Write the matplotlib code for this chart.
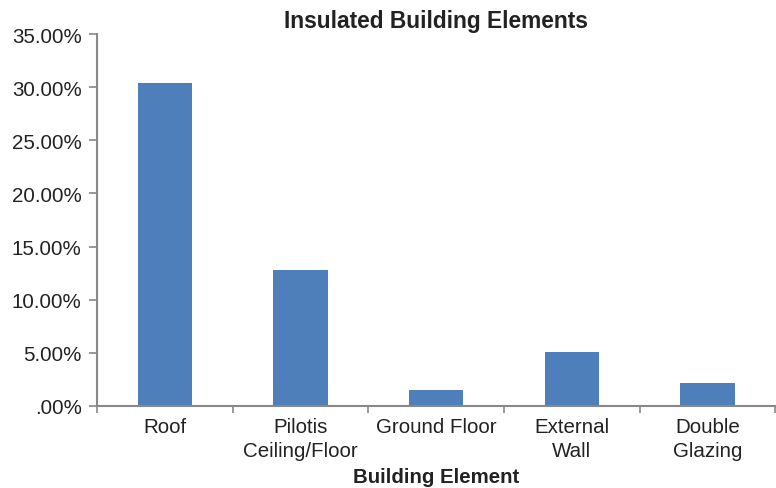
import numpy as np
import matplotlib.pyplot as plt
from matplotlib.ticker import FuncFormatter, FixedLocator

plt.rcParams['font.family'] = ['Liberation Sans', 'DejaVu Sans']

categories = ["Roof", "Pilotis\nCeiling/Floor", "Ground Floor", "External\nWall", "Double\nGlazing"]
values = [30.45, 12.8, 1.53, 5.11, 2.13]
yticks = [0, 5, 10, 15, 20, 25, 30, 35]


def pct(v, pos):
    s = "%.2f%%" % v
    if s.startswith("0"):
        s = s[1:]
    return s


fig = plt.figure(figsize=(7.76, 4.89), dpi=100)
ax = fig.add_axes([0.125, 0.168, 0.874, 0.76])

x = np.arange(len(categories))
ax.bar(x, values, width=0.4, color="#4F7FBA")

ax.set_xlim(-0.5, len(categories) - 0.5)
ax.set_ylim(0, 35)
ax.set_yticks(yticks)
ax.yaxis.set_major_formatter(FuncFormatter(pct))
ax.set_xticks(x)
ax.set_xticklabels(categories, linespacing=1.35)
ax.xaxis.set_minor_locator(FixedLocator(np.arange(-0.5, len(categories), 1.0)))
ax.tick_params(axis="x", which="major", length=0, pad=8, labelsize=14.8, colors="#222222")
ax.tick_params(axis="x", which="minor", length=5, color="#888888", width=1.2)
ax.tick_params(axis="y", length=6, color="#888888", width=1.2, labelsize=14.8, labelcolor="#222222", pad=5)

for side in ["top", "right"]:
    ax.spines[side].set_visible(False)
for side in ["left", "bottom"]:
    ax.spines[side].set_color("#888888")
    ax.spines[side].set_linewidth(1.5)

ax.set_title("Insulated Building Elements", fontsize=16.4, fontweight="bold", color="#222222", pad=5)
ax.set_xlabel("Building Element", fontsize=14.7, fontweight="bold", color="#222222", labelpad=5)

fig.savefig("out.png", dpi=100)
